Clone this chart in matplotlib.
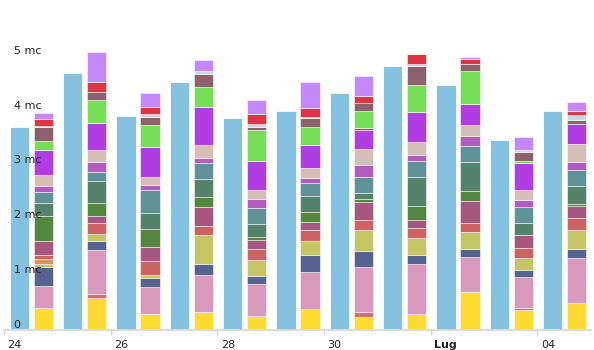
import matplotlib
matplotlib.use("Agg")
import matplotlib.pyplot as plt
import numpy as np
from matplotlib.transforms import ScaledTranslation, blended_transform_factory

days = ["24", "25", "26", "27", "28", "29", "30", "01", "02", "03", "04"]
tick_days = [0, 2, 4, 6, 8, 10]
tick_labels = ["24", "26", "28", "30", "Lug", "04"]
y_ticks = [0, 1, 2, 3, 4, 5]
y_labels = ["0", "1 mc", "2 mc", "3 mc", "4 mc", "5 mc"]

totals = [3.70, 4.68, 3.91, 4.52, 3.86, 3.99, 4.33, 4.81, 4.47, 3.46, 3.99]

yellow    = [0.40, 0.58, 0.29, 0.32, 0.26, 0.38, 0.23, 0.29, 0.70, 0.37, 0.49]
salmon    = [0.00, 0.08, 0.00, 0.00, 0.00, 0.00, 0.09, 0.00, 0.00, 0.04, 0.00]
pink      = [0.40, 0.80, 0.50, 0.68, 0.58, 0.68, 0.82, 0.91, 0.63, 0.55, 0.82]
slate     = [0.34, 0.17, 0.15, 0.21, 0.14, 0.30, 0.30, 0.16, 0.15, 0.14, 0.17]
olive     = [0.07, 0.12, 0.07, 0.52, 0.29, 0.26, 0.38, 0.32, 0.30, 0.21, 0.35]
tan       = [0.09, 0.00, 0.00, 0.00, 0.00, 0.00, 0.00, 0.00, 0.00, 0.00, 0.00]
red       = [0.06, 0.20, 0.24, 0.17, 0.20, 0.20, 0.19, 0.18, 0.17, 0.18, 0.22]
magenta   = [0.27, 0.13, 0.26, 0.35, 0.18, 0.15, 0.32, 0.15, 0.41, 0.24, 0.22]
green     = [0.44, 0.24, 0.33, 0.18, 0.04, 0.18, 0.05, 0.26, 0.18, 0.00, 0.03]
tealgreen = [0.24, 0.40, 0.29, 0.32, 0.24, 0.30, 0.12, 0.52, 0.53, 0.22, 0.32]
teal      = [0.20, 0.17, 0.43, 0.30, 0.30, 0.23, 0.29, 0.30, 0.29, 0.30, 0.29]
purple    = [0.11, 0.18, 0.09, 0.09, 0.16, 0.09, 0.21, 0.10, 0.18, 0.12, 0.15]
beige     = [0.21, 0.21, 0.14, 0.23, 0.17, 0.18, 0.30, 0.24, 0.20, 0.18, 0.34]
violet    = [0.46, 0.49, 0.54, 0.69, 0.52, 0.43, 0.35, 0.54, 0.38, 0.50, 0.36]
crimson   = [0.00, 0.00, 0.00, 0.00, 0.00, 0.00, 0.04, 0.00, 0.00, 0.00, 0.00]
lightgrn  = [0.16, 0.43, 0.40, 0.38, 0.56, 0.32, 0.30, 0.49, 0.60, 0.04, 0.00]
mauve     = [0.26, 0.14, 0.15, 0.22, 0.06, 0.17, 0.15, 0.35, 0.13, 0.16, 0.07]
lightgray = [0.01, 0.00, 0.06, 0.06, 0.05, 0.02, 0.00, 0.04, 0.00, 0.03, 0.09]
red2      = [0.13, 0.18, 0.12, 0.00, 0.19, 0.16, 0.13, 0.18, 0.10, 0.00, 0.08]
lavender  = [0.10, 0.55, 0.27, 0.21, 0.25, 0.47, 0.37, 0.00, 0.02, 0.24, 0.15]

series = [yellow, salmon, pink, slate, olive, tan, red, magenta, green, tealgreen,
          teal, purple, beige, violet, crimson, lightgrn, mauve, lightgray, red2, lavender]
colors = ["#FDDB33", "#D96B6B", "#D899BC", "#56638F", "#C6C566", "#D4955F", "#CC6363",
          "#A5577F", "#55863F", "#55826A", "#5E9296", "#B35CBF", "#D4BEB6", "#B03DE2",
          "#DD3545", "#76DD57", "#8C606C", "#C9D8DC", "#DD3545", "#C488F9"]
blue = "#85C2E1"

fig = plt.figure(figsize=(5.94, 3.5), dpi=100)
ax = fig.add_axes([4 / 594, 20 / 350, 586.7 / 594, 330 / 350])
x = np.arange(len(days))
w = 0.362

ax.bar(x + 0.287, totals, width=w, color=blue, edgecolor="white", linewidth=0.6)
bottom = np.zeros(len(days))
for vals, c in zip(series, colors):
    v = np.array(vals)
    ax.bar(x + 0.737, v, width=w, bottom=bottom, color=c,
           edgecolor=(1, 1, 1, 0.6), linewidth=0.6)
    bottom += v

ax.set_xlim(0, 11)
ax.set_ylim(0, 330 / 54.84)
for s in ["left", "right", "top"]:
    ax.spines[s].set_visible(False)
ax.spines["bottom"].set_color("#d9d9d9")
ax.spines["bottom"].set_linewidth(1.3)
ax.set_yticks([])
ax.set_xticks(tick_days)
ax.set_xticklabels(tick_labels, ha="left", fontsize=8, color="#222222")
ax.tick_params(axis="x", length=3.6, width=1.0, color="#d9d9d9", pad=3.8)
for lab in ax.get_xticklabels():
    lab.set_transform(lab.get_transform() + ScaledTranslation(3.5 / 100, 0, fig.dpi_scale_trans))
    if lab.get_text() == "Lug":
        lab.set_fontweight("bold")

trans = blended_transform_factory(ax.transAxes, ax.transData)
trans = trans + ScaledTranslation(9.5 / 100, 5 / 100, fig.dpi_scale_trans)
for v, t in zip(y_ticks, y_labels):
    ax.text(0, v, t, transform=trans, ha="left", va="center", fontsize=8, color="#222222")

fig.savefig("out.png", dpi=100)
